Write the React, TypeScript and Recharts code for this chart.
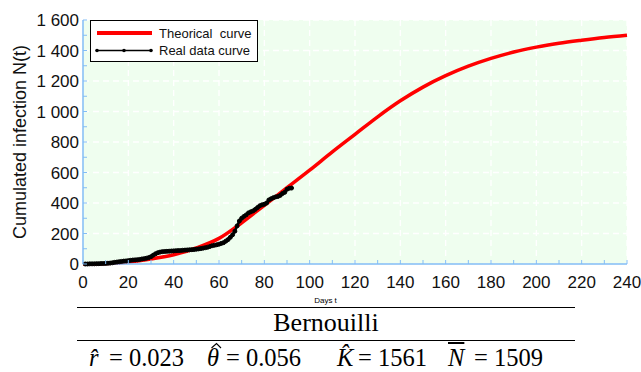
import { CartesianGrid, Legend, Line, LineChart, XAxis, YAxis } from 'recharts';

// theoretical Bernoulli curve (day, N)
const theoryDays = [0, 10, 20, 30, 40, 50, 60, 70, 80, 90, 100, 110, 120, 130, 140, 150, 160, 170, 180, 190, 200, 210, 220, 230, 240];
const theoryValues = [0, 3, 13, 33, 61, 105, 168, 270, 385, 500, 615, 735, 850, 965, 1070, 1160, 1235, 1297, 1348, 1390, 1422, 1447, 1467, 1485, 1500];

// observed cumulated cases, days 1..92
const realValues = [
  0, 0, 1, 1, 1, 2, 2, 3, 3, 4,
  5, 6, 8, 11, 13, 15, 17, 19, 20, 22,
  24, 26, 27, 28, 30, 33, 35, 38, 42, 48,
  58, 67, 74, 78, 81, 82, 83, 84, 85, 86,
  87, 88, 88, 90, 91, 92, 93, 94, 95, 97,
  99, 101, 104, 107, 110, 115, 120, 123, 126, 130,
  135, 140, 150, 160, 175, 192, 215, 250, 282, 300,
  312, 322, 335, 342, 348, 358, 370, 382, 388, 392,
  400, 420, 428, 435, 440, 443, 450, 462, 470, 490,
  497, 498,
];

const xTicks = [0, 10, 20, 30, 40, 50, 60, 70, 80, 90, 100, 110, 120, 130, 140, 150, 160, 170, 180, 190, 200, 210, 220, 230, 240];
const xGrid = [0, 20, 40, 60, 80, 100, 120, 140, 160, 180, 200, 220, 240];
const yTicks = [0, 100, 200, 300, 400, 500, 600, 700, 800, 900, 1000, 1100, 1200, 1300, 1400, 1500, 1600];
const yGrid = [0, 200, 400, 600, 800, 1000, 1200, 1400, 1600];

const theoryData = theoryDays.map((t, i) => ({ t, n: theoryValues[i] }));
const realData = realValues.map((n, i) => ({ t: i + 1, n }));

const AXIS = '#82bdf5';
const SANS = '"Liberation Sans", Arial, sans-serif';
const SERIF = '"Liberation Serif", "Times New Roman", serif';

const fmt = (v: number) =>
  v >= 1000 ? `${Math.floor(v / 1000)} ${String(v % 1000).padStart(3, '0')}` : String(v);

function XTick(props: any) {
  const { x, y, payload } = props;
  const v = payload.value;
  return (
    <g>
      <line x1={x} y1={y} x2={x} y2={y - 4} stroke={AXIS} />
      {v % 20 === 0 && (
        <text x={x} y={y + 24} textAnchor="middle" fontSize={17} fontFamily={SANS} fill="#111">
          {v}
        </text>
      )}
    </g>
  );
}

function YTick(props: any) {
  const { x, y, payload } = props;
  const v = payload.value;
  return (
    <g>
      <line x1={x} y1={y} x2={x + 4} y2={y} stroke={AXIS} />
      {v % 200 === 0 && (
        <text x={x - 4} y={y} dy="0.36em" textAnchor="end" fontSize={17} fontFamily={SANS} fill="#111">
          {fmt(v)}
        </text>
      )}
    </g>
  );
}

function LegendBox() {
  return (
    <svg width={168} height={42} style={{ display: 'block' }}>
      <rect x={0.5} y={0.5} width={167} height={41} fill="#fff" stroke="#000" />
      <line x1={7} y1={13} x2={62} y2={13} stroke="#ff0000" strokeWidth={4} />
      <text x={69} y={17.5} fontSize={13} fontFamily={SANS} fill="#111">
        Theorical{'\u00a0\u00a0'}curve
      </text>
      <line x1={7} y1={30.5} x2={61} y2={30.5} stroke="#000" strokeWidth={1.5} />
      <circle cx={7} cy={30.5} r={1.8} fill="#000" />
      <circle cx={34} cy={30.5} r={1.8} fill="#000" />
      <circle cx={61} cy={30.5} r={1.8} fill="#000" />
      <text x={69} y={35} fontSize={13} fontFamily={SANS} fill="#111">
        Real data curve
      </text>
    </svg>
  );
}

const abs = (left: number, top: number, extra: any = {}) => ({
  position: 'absolute' as const,
  left,
  top,
  whiteSpace: 'pre' as const,
  ...extra,
});

export default function App() {
  const fStyle = { fontFamily: SERIF, fontSize: 24.5, lineHeight: '25px', color: '#000' };
  return (
    <div style={{ position: 'absolute', left: 0, top: 0, width: 641, height: 372, background: '#fff', overflow: 'hidden' }}>
      <LineChart width={641} height={310} margin={{ top: 20, right: 14, left: 0, bottom: 0 }}>
        <CartesianGrid
          fill="#effeef"
          stroke="#ffffff"
          strokeWidth={1.3}
          strokeDasharray="6 4"
          verticalValues={xGrid}
          horizontalValues={yGrid}
        />
        <XAxis
          dataKey="t"
          type="number"
          domain={[0, 240]}
          ticks={xTicks}
          interval={0}
          height={46}
          tickSize={0}
          tickMargin={0}
          tickLine={false}
          axisLine={{ stroke: AXIS, strokeWidth: 1.5 }}
          tick={<XTick />}
          allowDuplicatedCategory={false}
        />
        <YAxis
          type="number"
          domain={[0, 1600]}
          ticks={yTicks}
          interval={0}
          width={83}
          tickSize={0}
          tickMargin={0}
          tickLine={false}
          axisLine={{ stroke: AXIS, strokeWidth: 1.5 }}
          tick={<YTick />}
          label={{
            value: 'Cumulated infection N(t)',
            angle: -90,
            position: 'insideLeft',
            offset: 20,
            style: { textAnchor: 'middle', fontSize: 18, fontFamily: SANS, fill: '#111' },
          }}
        />
        <Legend
          layout="vertical"
          verticalAlign="middle"
          align="center"
          wrapperStyle={{ position: 'absolute', left: 90, top: 20, width: 168, height: 42 }}
          content={() => <LegendBox />}
        />
        <Line
          data={theoryData}
          dataKey="n"
          type="monotone"
          stroke="#ff0000"
          strokeWidth={3.5}
          dot={false}
          isAnimationActive={false}
        />
        <Line
          data={realData}
          dataKey="n"
          type="linear"
          stroke="#000"
          strokeWidth={2.5}
          dot={{ r: 2, fill: '#000', stroke: '#000', strokeWidth: 1 }}
          isAnimationActive={false}
        />
      </LineChart>

      <div style={abs(300, 297, { width: 51, textAlign: 'center', fontFamily: SANS, fontSize: 8, lineHeight: '8px', color: '#000' })}>
        Days t
      </div>

      <div style={abs(77, 307, { width: 498, borderTop: '1px solid #000' })} />
      <div style={abs(77, 310, { width: 498, textAlign: 'center', fontFamily: SERIF, fontSize: 26, lineHeight: '26px', color: '#000' })}>
        Bernouilli
      </div>
      <div style={abs(77, 340, { width: 498, borderTop: '1px solid #000' })} />

      <span style={abs(89, 345, fStyle)}><i>r&#770;</i></span>
      <span style={abs(109, 345, fStyle)}>= 0.023</span>
      <span style={abs(207, 345, fStyle)}><i>θ</i></span>
      <svg style={abs(210, 342)} width={12} height={7}>
        <polyline points="1.5,6 6.5,1.5 11,6" fill="none" stroke="#000" strokeWidth={1.1} />
      </svg>
      <span style={abs(226, 345, fStyle)}>= 0.056</span>
      <span style={abs(337, 345, fStyle)}><i>K&#770;</i></span>
      <span style={abs(358, 345, fStyle)}>= 1561</span>
      <span style={abs(448, 345, fStyle)}><i style={{ textDecoration: 'overline' }}>N</i></span>
      <span style={abs(474, 345, fStyle)}>= 1509</span>
    </div>
  );
}
